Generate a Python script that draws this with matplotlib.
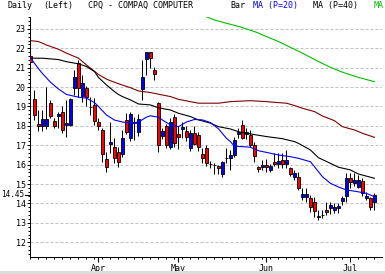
import numpy as np
import pandas as pd
import matplotlib
matplotlib.use('Agg')
import matplotlib.pyplot as plt
import matplotlib.transforms as mtransforms
from matplotlib.ticker import MultipleLocator, FixedLocator
from matplotlib.patches import Rectangle

plt.rcParams['font.family'] = ['DejaVu Sans Mono']
plt.rcParams['font.size'] = 6

# trading days, 8 Mar 2001 .. 11 Jul 2001
holidays = ['2001-04-13', '2001-05-28', '2001-07-04']
dates = pd.bdate_range('2001-03-08', '2001-07-11', freq='C', holidays=holidays)

opens = [21.58, 19.37, 18.10, 18.00, 18.00, 19.20, 18.25, 18.50, 18.74, 18.03,
         18.05, 19.94, 21.23, 19.55, 19.94, 18.95, 19.08, 18.22, 17.79, 16.28,
         17.05, 16.93, 16.67, 16.54, 18.31, 17.40, 18.14, 17.70, 19.89, 21.44,
         21.83, 20.89, 19.20, 17.50, 18.00, 16.93, 18.48, 17.58, 17.83, 17.74,
         16.85, 17.62, 17.53, 16.55, 16.85, 16.02, 15.98, 15.93, 15.50, 16.33,
         16.33, 16.50, 17.58, 18.05, 17.60, 17.53, 17.02, 15.87, 15.87, 16.00,
         15.73, 16.16, 16.04, 16.24, 16.02, 15.81, 15.35, 15.38, 14.35, 14.35,
         14.27, 14.10, 13.32, 13.41, 13.67, 13.78, 13.67, 13.75, 14.13, 14.39,
         15.30, 15.07, 14.87, 15.16, 14.27, 14.30, 14.06]
closes = [21.27, 18.56, 18.00, 18.36, 18.36, 18.53, 18.00, 18.60, 17.80, 18.14,
          19.39, 20.54, 19.94, 20.23, 19.48, 18.98, 18.25, 18.01, 16.54, 15.87,
          17.19, 16.33, 16.16, 17.36, 17.70, 18.60, 18.22, 18.36, 20.54, 21.83,
          21.52, 20.68, 17.02, 17.75, 17.02, 18.22, 17.10, 17.45, 17.96, 17.45,
          17.62, 17.07, 16.90, 16.33, 16.11, 16.03, 15.99, 15.81, 16.12, 16.34,
          16.50, 17.28, 17.70, 17.40, 17.70, 17.02, 16.47, 15.76, 15.98, 15.90,
          15.93, 16.04, 16.20, 16.02, 16.24, 15.50, 15.59, 14.78, 14.47, 14.47,
          13.80, 13.63, 13.33, 13.42, 13.55, 13.92, 13.80, 13.87, 14.27, 15.30,
          15.12, 15.21, 15.21, 14.53, 14.39, 13.80, 14.45]
highs = [21.75, 19.85, 18.80, 18.80, 20.00, 19.35, 18.40, 18.74, 19.00, 19.34,
         19.42, 20.90, 21.40, 20.60, 20.05, 19.50, 19.43, 18.40, 17.90, 16.67,
         18.22, 17.40, 16.93, 17.79, 18.65, 18.70, 18.48, 18.60, 21.40, 21.83,
         21.83, 21.06, 19.25, 17.90, 18.10, 18.40, 18.60, 18.00, 18.20, 18.00,
         17.80, 18.00, 17.70, 16.85, 17.00, 16.20, 16.10, 16.00, 16.20, 16.85,
         16.76, 17.45, 17.90, 18.30, 17.90, 17.80, 17.19, 15.95, 16.24, 16.30,
         16.05, 16.60, 16.60, 16.60, 16.75, 15.90, 15.70, 15.60, 14.80, 14.80,
         14.45, 14.35, 13.67, 13.67, 14.10, 14.10, 14.00, 14.00, 14.40, 15.55,
         15.55, 15.55, 15.45, 15.30, 14.60, 14.35, 14.56]
lows = [21.14, 18.30, 17.76, 17.76, 17.85, 18.40, 17.90, 17.88, 17.65, 17.45,
        18.00, 19.60, 19.50, 19.25, 19.00, 18.56, 18.05, 17.80, 16.16, 15.64,
        16.59, 16.10, 15.87, 16.40, 17.60, 17.20, 17.28, 17.50, 19.34, 20.63,
        20.97, 20.37, 16.67, 17.30, 16.85, 16.80, 16.90, 16.80, 17.40, 17.20,
        16.70, 17.00, 16.70, 16.07, 15.95, 15.85, 15.50, 15.50, 15.35, 16.07,
        15.73, 16.40, 17.40, 17.30, 17.30, 16.90, 16.16, 15.60, 15.73, 15.60,
        15.60, 15.95, 15.85, 15.85, 15.85, 15.40, 15.20, 14.70, 14.20, 14.05,
        13.55, 13.30, 13.15, 13.25, 13.40, 13.45, 13.50, 13.50, 13.90, 14.10,
        14.80, 14.90, 14.80, 14.40, 14.20, 13.67, 13.67]

# moving averages (day index, value)
ma20_day = [0, 2, 3, 5, 7, 9, 12, 14, 16, 17, 19, 21, 23, 25, 27, 29, 30, 32, 33, 35,
            37, 39, 41, 43, 45, 47, 49, 50, 51, 53, 55, 57, 60, 62, 65, 67, 70, 71, 73, 75,
            77, 79, 82, 84, 86]
ma20_val = [21.5, 20.95, 20.7, 20.25, 19.9, 19.62, 19.48, 19.43, 19.2, 19.0,
            18.56, 18.3, 18.2, 18.15, 18.2, 18.45, 18.52, 18.45, 18.3, 18.05,
            17.96, 18.2, 18.33, 18.31, 18.17, 17.85, 17.36, 17.19, 16.95, 16.93,
            16.9, 16.72, 16.59, 16.5, 16.41, 16.33, 16.15, 15.9, 15.38, 15.04,
            14.85, 14.7, 14.6, 14.52, 14.35]
ma40_day = [0, 3, 7, 9, 12, 14, 16, 17, 19, 21, 22, 23, 25, 27, 30, 32, 35, 37, 40, 42,
            45, 47, 50, 52, 56, 59, 63, 66, 67, 70, 72, 75, 77, 80, 82, 86]
ma40_val = [21.49, 21.49, 21.42, 21.31, 21.2, 21.06, 20.8, 20.5, 20.11, 19.77,
            19.62, 19.51, 19.34, 19.13, 19.08, 18.93, 18.82, 18.65, 18.48, 18.31,
            18.14, 17.96, 17.84, 17.7, 17.55, 17.45, 17.34, 17.19, 17.1, 16.76,
            16.36, 16.07, 15.87, 15.73, 15.52, 15.3]
ma_red_day = [-0.25, 2, 4, 7, 9, 12, 14, 17, 19, 22, 25, 27, 30, 35, 37, 42, 47, 50, 55, 59,
              62, 64, 66, 68, 71, 73, 76, 78, 81, 83, 86]
ma_red_val = [22.4, 22.35, 22.17, 21.95, 21.75, 21.49, 21.14, 20.65, 20.41, 20.17,
              19.97, 19.8, 19.72, 19.51, 19.37, 19.17, 19.17, 19.25, 19.3, 19.25,
              19.2, 19.17, 19.05, 18.91, 18.74, 18.51, 18.27, 17.96, 17.79, 17.62, 17.41]
ma_green_day = [43.8, 46, 49, 52, 54, 57, 58, 62, 65, 68, 72, 75, 78, 82, 86]
ma_green_val = [23.64, 23.46, 23.29, 23.13, 23.0, 22.79, 22.69, 22.35, 22.05, 21.75,
                21.32, 21.02, 20.77, 20.5, 20.28]

last_close_label = '14.45'

W, H = 385, 274
fig = plt.figure(figsize=(W / 100, H / 100), dpi=100)
fig.patch.set_facecolor('white')
ax = fig.add_axes([29.5 / W, 1 - 257 / H, (382 - 29.5) / W, (257 - 16.5) / H])

o = np.array(opens)
c = np.array(closes)
h = np.array(highs)
l = np.array(lows)
x = np.arange(len(dates))
up = c >= o

# grid
ax.set_ylim(11.24, 23.64)
ax.set_xlim(-0.25, 87.9)
ax.yaxis.set_major_locator(MultipleLocator(1))
ax.yaxis.set_minor_locator(MultipleLocator(0.2))
ax.yaxis.grid(True, which='major', color='#c0c0c0', linestyle=(0, (3, 2)), linewidth=0.72)
ax.set_axisbelow(True)

# wicks and bodies
ax.vlines(x, l, h, color='black', linewidth=0.72, zorder=2)
body_lo = np.minimum(o, c)
body_h = np.abs(c - o)
ax.bar(x[up], body_h[up], bottom=body_lo[up], width=0.8, color='#0000ff',
       edgecolor='black', linewidth=0.6, zorder=3)
ax.bar(x[~up], body_h[~up], bottom=body_lo[~up], width=0.8, color='#ff0000',
       edgecolor='black', linewidth=0.6, zorder=3)

# moving averages
ax.plot(ma_green_day, ma_green_val, color='#00c000', lw=0.8, zorder=4)
ax.plot(ma_red_day, ma_red_val, color='#800000', lw=0.8, zorder=4)
ax.plot(ma40_day, ma40_val, color='black', lw=0.8, zorder=4)
ax.plot(ma20_day, ma20_val, color='#0000ff', lw=0.8, zorder=4)

# axes styling
for s in ['top', 'right']:
    ax.spines[s].set_visible(False)
for s in ['left', 'bottom']:
    ax.spines[s].set_linewidth(0.72)
ax.tick_params(axis='y', which='major', length=2.2, width=0.72, pad=0.5, labelsize=6)
ax.tick_params(axis='y', which='minor', length=1.1, width=0.72)

month_pos = [i for i in range(1, len(dates)) if dates[i].month != dates[i - 1].month]
month_lbl = [dates[i].strftime('%b') for i in month_pos]
ax.xaxis.set_major_locator(FixedLocator(month_pos))
ax.set_xticklabels(month_lbl)
ax.xaxis.set_minor_locator(MultipleLocator(2))
ax.tick_params(axis='x', which='major', length=3.6, width=0.72, pad=1.5, labelsize=6)
ax.tick_params(axis='x', which='minor', length=1.4, width=0.72)

# last close marker on the left axis
trans = mtransforms.blended_transform_factory(ax.transAxes, ax.transData)
lastc = closes[-1]
ax.plot([-5 / 352.5, 0], [lastc, lastc], color='black', lw=0.72,
        transform=trans, clip_on=False)
ax.text(-5.5 / 352.5, lastc, last_close_label, transform=trans, ha='right',
        va='center', fontsize=5.5)

# header line
def head(px, s, col='black'):
    fig.text(px / W, 1 - 7.6 / H, s, color=col, fontsize=6, ha='left', va='baseline')

head(7.3, 'Daily')
head(43.3, '(Left)')
head(88.3, 'CPQ - COMPAQ COMPUTER')
head(230, 'Bar')
head(253.3, 'MA (P=20)', '#0000ff')
head(313.3, 'MA (P=40)')
head(373.3, 'MA', '#00c000')

# window border strip at the bottom
fig.add_artist(Rectangle((0, 0), 1, 3 / H, transform=fig.transFigure,
                         facecolor='#dcdcdc', edgecolor='none'))

fig.savefig('out.png', dpi=100)
